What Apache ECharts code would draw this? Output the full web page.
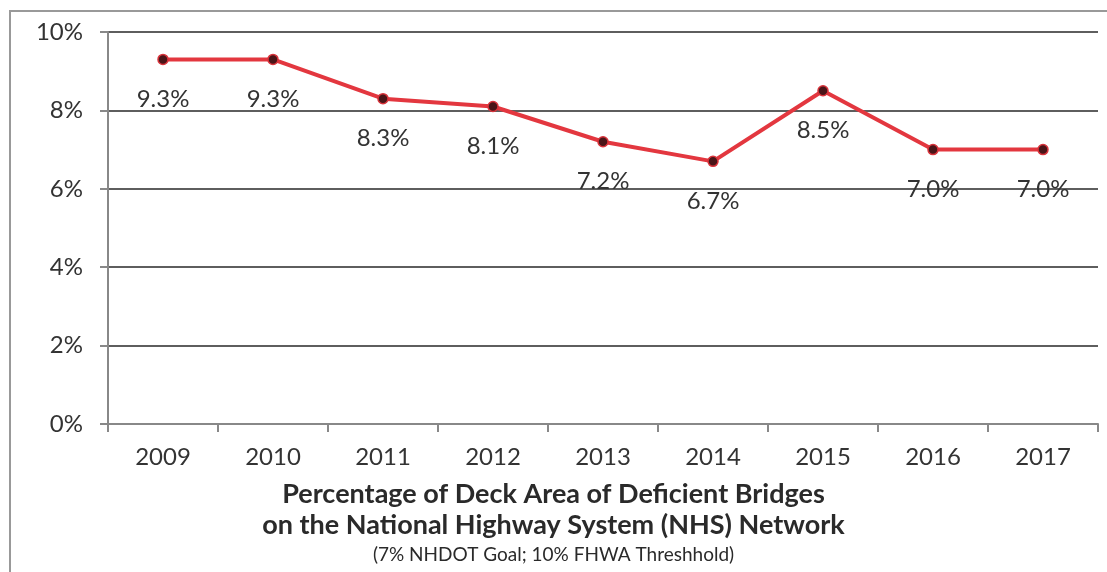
<!DOCTYPE html>
<html><head><meta charset="utf-8">
<script src="https://cdn.jsdelivr.net/npm/echarts@6/dist/echarts.min.js"></script>
<style>html,body{margin:0;padding:0;background:#fff}#c{width:1107px;height:572px}</style>
</head><body><div id="c"></div>
<script>
const years = ['2009','2010','2011','2012','2013','2014','2015','2016','2017'];
const deficientPct = [9.3, 9.3, 8.3, 8.1, 7.2, 6.7, 8.5, 7.0, 7.0];
const yTicks = [0, 2, 4, 6, 8, 10];
const titleLines = ['Percentage of Deck Area of Deficient Bridges', 'on the National Highway System (NHS) Network'];
const subtitle = '(7% NHDOT Goal; 10% FHWA Threshhold)';

const chart = echarts.init(document.getElementById('c'));
const font = 'Lato, "Open Sans", sans-serif';
chart.setOption({
  backgroundColor: '#fff',
  animation: false,
  title: {
    text: titleLines.join('\n'),
    subtext: subtitle,
    left: 'center',
    top: 474,
    itemGap: 4,
    textStyle: {fontFamily: font, fontWeight: 'bold', fontSize: 27, color: '#2a2a2a', lineHeight: 31},
    subtextStyle: {fontFamily: font, fontSize: 19, color: '#2a2a2a'}
  },
  grid: {left: 108, right: 9, top: 32, bottom: 148},
  xAxis: {
    type: 'category',
    data: years,
    boundaryGap: true,
    axisLine: {lineStyle: {color: '#888', width: 2}},
    axisTick: {show: true, length: 8, alignWithLabel: false, lineStyle: {color: '#888', width: 2}},
    axisLabel: {fontFamily: font, fontSize: 24, color: '#333', margin: 21}
  },
  yAxis: {
    type: 'value',
    min: yTicks[0], max: yTicks[yTicks.length - 1], interval: 2,
    axisLine: {show: true, lineStyle: {color: '#888', width: 2}},
    axisTick: {show: true, length: 8, lineStyle: {color: '#888', width: 2}},
    axisLabel: {fontFamily: font, fontSize: 24, color: '#333', margin: 25, formatter: '{value}%'},
    splitLine: {lineStyle: {color: '#5e5e5e', width: 2}}
  },
  series: [{
    type: 'line',
    data: deficientPct,
    symbol: 'circle',
    symbolSize: 10,
    lineStyle: {color: '#e3373f', width: 4},
    itemStyle: {color: '#4a1518', borderColor: '#d8333b', borderWidth: 1.5},
    label: {
      show: true, position: 'bottom', distance: 22,
      fontFamily: font, fontSize: 24, color: '#333',
      formatter: p => p.value.toFixed(1) + '%'
    }
  }],
  graphic: [{
    type: 'polyline', silent: true,
    shape: {points: [[10, 572], [10, 11], [1107, 11]]},
    style: {stroke: '#999', lineWidth: 2, fill: null}
  }]
});
</script></body></html>
